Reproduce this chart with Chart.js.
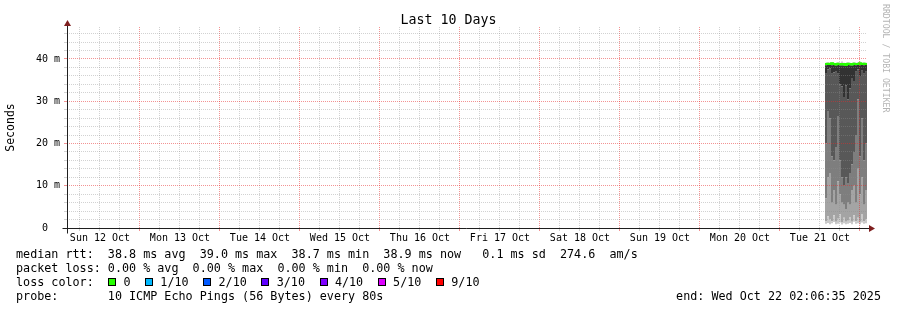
<!DOCTYPE html>
<html>
<head>
<meta charset="utf-8">
<title>Last 10 Days</title>
<script src="https://cdn.jsdelivr.net/npm/chart.js@4.4.1/dist/chart.umd.min.js"></script>
<style>
    body { margin: 0; background: #fff; }
    #wrap { position: relative; width: 897px; height: 310px; font-family: 'DejaVu Sans Mono', monospace; }
    #legend { position: absolute; left: 16px; top: 247px; font-size: 11.74px; line-height: 14px; white-space: pre; color: #000; }
    .row { position: relative; height: 14px; }
    .sq { position: absolute; top: 3px; width: 6px; height: 6px; border: 1px solid #000; }
    .lbl { position: absolute; top: 0; }
    #end { position: absolute; right: 16px; top: 289px; font-size: 11.74px; line-height: 14px; white-space: pre; }
    #credit { position: absolute; left: 881px; top: 4px; writing-mode: vertical-rl; font-size: 8.2px; line-height: 10px; color: #b4b4b4; white-space: pre; }
</style>
</head>
<body>
<div id="wrap">
    <canvas id="pingChart" width="897" height="310"></canvas>
    <div id="legend"></div>
    <div id="end"></div>
    <div id="credit">RRDTOOL / TOBI OETIKER</div>
</div>
<script>
/* ==============================
   SMOKEPING — LAST 10 DAYS
   ============================== */

// x = hours since graph start (Sun 12 Oct 02:06:35), 240 h shown
const dayLabels = ['Sun 12 Oct', 'Mon 13 Oct', 'Tue 14 Oct', 'Wed 15 Oct', 'Thu 16 Oct',
                   'Fri 17 Oct', 'Sat 18 Oct', 'Sun 19 Oct', 'Mon 20 Oct', 'Tue 21 Oct'];
const yTickLabels = ['0  ', '10 m', '20 m', '30 m', '40 m'];

const sampleHours = [227.4, 228.0, 228.6, 229.2, 229.8, 230.4, 231.0, 231.6, 232.2, 232.8, 233.4,
                     234.0, 234.6, 235.2, 235.8, 236.4, 237.0, 237.6, 238.2, 238.8, 239.4];

// sorted ping rtts (ms), lowest to highest
const ping1  = [1.0, 1.2, 0.9, 1.1, 1.4, 0.9, 1.0, 1.3, 0.8, 1.1, 0.9, 1.0, 1.2, 0.9, 1.5, 1.0, 1.1, 0.9, 1.3, 1.0, 1.1];
const ping2  = [1.6, 2.8, 2.0, 1.6, 3.0, 1.5, 2.2, 3.2, 1.4, 2.4, 1.5, 1.7, 2.6, 1.5, 3.0, 1.6, 2.4, 1.5, 3.3, 1.6, 2.1];
const ping3  = [7.0, 12.0, 13.0, 6.0, 9.0, 5.5, 11.0, 8.0, 6.0, 5.5, 4.5, 6.0, 5.5, 9.0, 10.0, 6.0, 14.0, 8.0, 12.0, 5.5, 9.0];
const ping4  = [20.0, 27.5, 26.0, 17.0, 16.0, 19.0, 26.5, 16.0, 12.0, 10.0, 12.0, 10.5, 13.0, 15.0, 18.0, 22.0, 30.5, 17.0, 26.0, 16.0, 20.0];
const ping5  = [36.5, 37.5, 37.8, 36.5, 36.8, 37.0, 36.5, 34.0, 33.5, 31.0, 33.8, 30.5, 33.0, 35.5, 34.8, 37.0, 37.5, 36.0, 37.2, 36.5, 37.0];
const ping6  = [38.5, 38.6, 38.6, 38.5, 38.6, 38.4, 38.6, 38.5, 38.5, 38.4, 38.5, 38.6, 38.5, 38.4, 38.6, 38.5, 38.6, 38.5, 38.6, 38.5, 38.6];
const ping7  = [38.6, 38.7, 38.7, 38.6, 38.7, 38.6, 38.7, 38.6, 38.6, 38.6, 38.6, 38.7, 38.6, 38.6, 38.7, 38.6, 38.7, 38.6, 38.7, 38.6, 38.7];
const ping8  = [38.8, 38.8, 38.8, 38.8, 38.8, 38.7, 38.8, 38.8, 38.7, 38.8, 38.7, 38.8, 38.8, 38.7, 38.8, 38.8, 38.8, 38.8, 38.8, 38.8, 38.8];
const ping9  = [38.9, 38.9, 38.9, 39.0, 38.9, 38.8, 38.9, 38.9, 38.9, 38.9, 38.8, 38.9, 38.9, 38.8, 38.9, 38.9, 38.9, 39.0, 38.9, 38.9, 38.9];
const ping10 = [39.1, 39.2, 39.0, 39.3, 39.1, 39.0, 39.2, 39.1, 39.4, 39.1, 39.0, 39.2, 39.1, 39.0, 39.3, 39.1, 39.2, 39.4, 39.1, 39.2, 39.1];
const medianRtt = [38.8, 38.9, 38.8, 39.0, 38.8, 38.7, 38.9, 38.8, 38.7, 38.8, 38.6, 38.9, 38.8, 38.7, 38.9, 38.8, 38.8, 39.0, 38.8, 38.9, 38.8];

const lossLabels = ['0', '1/10', '2/10', '3/10', '4/10', '5/10', '9/10'];
const lossColors = ['#26ff00', '#00b8ff', '#0059ff', '#5e00ff', '#7e00ff', '#dd00ff', '#ff0000'];

const rttText   = 'median rtt:  38.8 ms avg  39.0 ms max  38.7 ms min  38.9 ms now   0.1 ms sd  274.6  am/s';
const lossText  = 'packet loss: 0.00 % avg  0.00 % max  0.00 % min  0.00 % now';
const probeText = 'probe:       10 ICMP Echo Pings (56 Bytes) every 80s';
const endText   = 'end: Wed Oct 22 02:06:35 2025';

const HOURS_SHOWN = 240;
const FIRST_MIDNIGHT = 21.890;   // Mon 13 Oct 00:00
const Y_MAX = 47.57;

const SMOKE = ['#cacaca', '#a4a4a4', '#7e7e7e', '#585858', '#323232', '#585858', '#7e7e7e', '#a4a4a4', '#cacaca'];
const MONO = "'DejaVu Sans Mono', monospace";
const GRID_MINOR = 'rgba(143,143,143,0.4)';
const GRID_MAJOR = 'rgba(232,40,40,0.5)';

function steps(values) {
    const pts = sampleHours.map((h, i) => ({ x: h, y: values[i] }));
    pts.push({ x: HOURS_SHOWN, y: values[values.length - 1] });
    return pts;
}

function sixHourIndex(v) {
    return ((Math.round((v - FIRST_MIDNIGHT) / 6) % 4) + 4) % 4;
}

function isMajorY(v) {
    return Math.round(v) % 10 === 0;
}

function buildDatasets() {
    const sets = [{
        data: steps(medianRtt),
        borderColor: lossColors[0],
        borderWidth: 2,
        stepped: true,
        fill: false,
        pointRadius: 0,
    }];
    const pings = [ping1, ping2, ping3, ping4, ping5, ping6, ping7, ping8, ping9, ping10];
    pings.forEach((p, i) => {
        sets.push({
            data: steps(p),
            borderColor: 'rgba(0,0,0,0)',
            borderWidth: 0,
            stepped: true,
            fill: i === 0 ? false : '-1',
            backgroundColor: i === 0 ? 'rgba(0,0,0,0)' : SMOKE[i - 1],
            pointRadius: 0,
        });
    });
    return sets;
}

// axis lines with arrows, drawn like rrdtool
const axisArrows = {
    id: 'axisArrows',
    afterDraw(chart) {
        const { ctx, chartArea: a } = chart;
        const bottom = Math.round(a.bottom) + 0.5;
        const left = Math.round(a.left) + 0.5;
        ctx.save();
        ctx.strokeStyle = '#1f1f1f';
        ctx.lineWidth = 1;
        ctx.beginPath();
        ctx.moveTo(left - 5, bottom);
        ctx.lineTo(a.right + 3, bottom);
        ctx.moveTo(left, bottom + 5);
        ctx.lineTo(left, a.top - 2);
        ctx.stroke();
        ctx.fillStyle = '#7f1f1f';
        ctx.beginPath();
        ctx.moveTo(a.right + 2, bottom - 3.5);
        ctx.lineTo(a.right + 8, bottom);
        ctx.lineTo(a.right + 2, bottom + 3.5);
        ctx.closePath();
        ctx.fill();
        ctx.beginPath();
        ctx.moveTo(left - 3.5, a.top - 1);
        ctx.lineTo(left, a.top - 7);
        ctx.lineTo(left + 3.5, a.top - 1);
        ctx.closePath();
        ctx.fill();
        ctx.restore();
    }
};

function renderPingChart() {
    const canvas = document.getElementById('pingChart');
    new Chart(canvas, {
        type: 'line',
        data: { datasets: buildDatasets() },
        plugins: [axisArrows],
        options: {
            responsive: false,
            animation: false,
            devicePixelRatio: 1,
            layout: { padding: 0 },
            plugins: {
                legend: { display: false },
                tooltip: { enabled: false },
                title: {
                    display: true,
                    text: 'Last 10 Days',
                    color: '#000',
                    font: { family: MONO, size: 13.3, weight: 'normal', lineHeight: 1 },
                    padding: { top: 14, bottom: -0.3 },
                }
            },
            scales: {
                x: {
                    type: 'linear',
                    min: 0,
                    max: HOURS_SHOWN,
                    afterFit: s => { s.height = 82; },
                    afterBuildTicks: s => {
                        const t = [];
                        for (let v = FIRST_MIDNIGHT - 18; v < HOURS_SHOWN; v += 6) t.push({ value: v });
                        s.ticks = t;
                    },
                    border: { display: false, dash: [1, 1] },
                    grid: {
                        z: 1,
                        color: c => sixHourIndex(c.tick.value) === 0 ? GRID_MAJOR : GRID_MINOR,
                        tickColor: c => sixHourIndex(c.tick.value) === 0 ? GRID_MAJOR : GRID_MINOR,
                        tickLength: 3,
                    },
                    ticks: {
                        autoSkip: false,
                        maxRotation: 0,
                        minRotation: 0,
                        padding: 1,
                        color: '#000',
                        font: { family: MONO, size: 10 },
                        callback: v => {
                            if (sixHourIndex(v) !== 2) return '';
                            return dayLabels[Math.round((v - FIRST_MIDNIGHT + 12) / 24)] || '';
                        }
                    }
                },
                y: {
                    type: 'linear',
                    min: 0,
                    max: Y_MAX,
                    afterFit: s => { s.width = 67; },
                    afterBuildTicks: s => {
                        const t = [];
                        for (let v = 0; v < Y_MAX; v += 2) t.push({ value: v });
                        s.ticks = t;
                    },
                    border: { display: false, dash: [1, 1] },
                    grid: {
                        z: 1,
                        color: c => isMajorY(c.tick.value) ? GRID_MAJOR : GRID_MINOR,
                        tickColor: c => isMajorY(c.tick.value) ? GRID_MAJOR : GRID_MINOR,
                        tickLength: 3,
                    },
                    ticks: {
                        autoSkip: false,
                        padding: 4,
                        color: '#000',
                        font: { family: MONO, size: 10 },
                        callback: v => isMajorY(v) ? yTickLabels[Math.round(v / 10)] : ''
                    },
                    title: {
                        display: true,
                        text: 'Seconds',
                        color: '#000',
                        font: { family: MONO, size: 11.5 },
                        padding: { top: 4, bottom: 0 },
                    }
                },
                yRight: {
                    type: 'linear',
                    position: 'right',
                    display: true,
                    afterFit: s => { s.width = 30; },
                    grid: { display: false },
                    border: { display: false },
                    ticks: { display: false },
                }
            }
        }
    });
}

function renderLegend() {
    const legend = document.getElementById('legend');
    const addRow = text => {
        const row = document.createElement('div');
        row.className = 'row';
        row.textContent = text;
        legend.appendChild(row);
        return row;
    };
    addRow(rttText);
    addRow(lossText);
    const lossRow = addRow('loss color:');
    let x = 92;
    lossLabels.forEach((lbl, i) => {
        const sq = document.createElement('span');
        sq.className = 'sq';
        sq.style.left = x + 'px';
        sq.style.background = lossColors[i];
        lossRow.appendChild(sq);
        const t = document.createElement('span');
        t.className = 'lbl';
        t.style.left = (x + 15.4) + 'px';
        t.textContent = lbl;
        lossRow.appendChild(t);
        x += 15.4 + lbl.length * 7.07 + 14.5;
    });
    addRow(probeText);
    document.getElementById('end').textContent = endText;
}

renderPingChart();
renderLegend();
</script>
</body>
</html>
